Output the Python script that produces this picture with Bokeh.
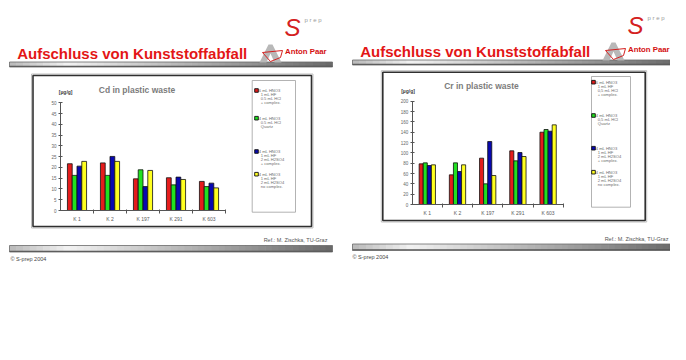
from bokeh.plotting import figure
from bokeh.models import (Label, BoxAnnotation, PolyAnnotation, FixedTicker,
                          ColumnDataSource, Range1d, LinearAxis)
from bokeh.transform import dodge
from bokeh.layouts import row
from bokeh.embed import file_html
from bokeh.resources import INLINE

U = "canvas"

# ---------------- data ----------------
cd_categories = ["K 1", "K 2", "K 197", "K 291", "K 603"]
cd_series1 = [21.7, 22.1, 14.7, 15.2, 13.5]
cd_series2 = [16.3, 16.3, 18.9, 11.9, 11.1]
cd_series3 = [20.6, 25.1, 11.1, 15.5, 12.7]
cd_series4 = [22.8, 22.8, 18.6, 14.4, 10.5]
cd_ticks = [0, 5, 10, 15, 20, 25, 30, 35, 40, 45, 50]

cr_categories = ["K 1", "K 2", "K 197", "K 291", "K 603"]
cr_series1 = [78.7, 57.4, 89.7, 103.9, 140.0]
cr_series2 = [80.6, 80.6, 40.0, 84.5, 145.2]
cr_series3 = [75.5, 63.9, 121.9, 100.6, 141.9]
cr_series4 = [76.8, 76.8, 56.1, 92.9, 154.2]
cr_ticks = [0, 20, 40, 60, 80, 100, 120, 140, 160, 180, 200]

legend_cd = [["6 mL HNO3", "1 mL HF", "0.5 mL HCl", "+ complex."],
             ["4 mL HNO3", "0.5 mL HCl", "Quartz"],
             ["4 mL HNO3", "1 mL HF", "2 mL H2SO4", "+ complex."],
             ["4 mL HNO3", "1 mL HF", "2 mL H2SO4", "no complex."]]
legend_cr = [["6 mL HNO3", "1 mL HF", "0,5 mL HCl", "+ complex."],
             ["4 mL HNO3", "0,5 mL HCl", "Quartz"],
             ["4 mL HNO3", "1 mL HF", "2 mL H2SO4", "+ complex."],
             ["4 mL HNO3", "1 mL HF", "2 mL H2SO4", "no complex."]]

slide_title = "Aufschluss von Kunststoffabfall"
ref_text = "Ref.: M. Zischka, TU-Graz"
copy_text = "\u00a9 S-prep 2004"

FONT = "Liberation Sans"
BAR_COLORS = ["#e51c1c", "#20e020", "#0808b0", "#ffff20"]
H = 344


def make_slide(cfg):
    Wf = cfg["width"]
    pl = cfg["page_left"]
    cats = cfg["cats"]
    n = len(cats)
    ymax = cfg["ymax"]
    Lp, Rp, Tp, Bp = [v - (pl if i < 2 else 0) for i, v in enumerate(cfg["chart_px"])]
    u = n / (Rp - Lp)
    v = ymax / (Bp - Tp)
    p = figure(width=Wf, height=H,
               x_range=Range1d(-Lp * u, n + (Wf - Rp) * u),
               y_range=Range1d(-(H - Bp) * v, ymax + Tp * v),
               x_axis_location=None, y_axis_location=None,
               output_backend="svg", toolbar_location=None,
               min_border=0, min_border_left=0, min_border_right=0,
               min_border_top=0, min_border_bottom=0)
    p.title.visible = False
    p.outline_line_color = None
    p.grid.visible = False
    p.background_fill_color = "white"
    p.border_fill_color = "white"

    def P(X, Y):
        return X - pl, Y

    def text(X, Y, t, size, color, style="normal", align="left", baseline="middle"):
        x, y = P(X, Y)
        p.add_layout(Label(x=x, y=y, x_units=U, y_units=U, text=t,
                           text_font=FONT, text_font_size=f"{size}px",
                           text_color=color, text_font_style=style,
                           text_align=align, text_baseline=baseline))

    def box(X0, Y0, X1, Y1, fill=None, line=None, lw=1.0):
        l, t = P(X0, Y0)
        r, b = P(X1, Y1)
        p.add_layout(BoxAnnotation(left=l, right=r, top=t, bottom=b,
                                   left_units=U, right_units=U,
                                   top_units=U, bottom_units=U,
                                   fill_color=fill, fill_alpha=1.0 if fill else 0.0,
                                   line_color=line, line_alpha=1.0 if line else 0.0,
                                   line_width=lw, level="underlay"))

    def poly(pts, fill=None, line=None, lw=1.0):
        xs, ys = zip(*[P(a, b) for a, b in pts])
        p.add_layout(PolyAnnotation(xs=list(xs), ys=list(ys), xs_units=U, ys_units=U,
                                    fill_color=fill, fill_alpha=1.0 if fill else 0.0,
                                    line_color=line, line_alpha=1.0 if line else 0.0,
                                    line_width=lw))

    def grad_bar(X0, X1, Y0, Y1, n=48):
        stops = [(0.0, (185, 185, 185)), (0.18, (242, 242, 242)), (1.0, (105, 105, 105))]
        for i in range(n):
            t = (i + 0.5) / n
            for (ta, ca), (tb, cb) in zip(stops[:-1], stops[1:]):
                if ta <= t <= tb:
                    f = (t - ta) / (tb - ta)
                    c = tuple(int(ca[k] + (cb[k] - ca[k]) * f) for k in range(3))
                    break
            xa = X0 + (X1 - X0) * i / n
            xb = X0 + (X1 - X0) * (i + 1) / n + 0.6
            box(xa, Y0, min(xb, X1), Y1, fill="#%02x%02x%02x" % c)
        box(X0, Y1 - 1.2, X1, Y1, fill="#555555")
        box(X0, Y0, X1, Y1, line="#6a6a6a", lw=0.8)

    o = cfg["slide_left"]
    dy = cfg["dy"]

    # slide header
    text(o + 16.7, 53.3 + dy, slide_title, 15, "#e31616", style="bold")
    grad_bar(o + 9, o + 332, 61.5 + dy, 66.5 + dy)
    # S-prep logo
    text(o + 284, 27 + dy, "S", 24, "#d42020", style="italic")
    text(o + 304, 19 + dy, "p r e p", 6, "#9a9a9a")
    # Anton Paar logo
    poly([(o + 259, 62 + dy), (o + 268, 44 + dy), (o + 272, 44 + dy), (o + 281, 62 + dy),
          (o + 274, 62 + dy), (o + 270, 53 + dy), (o + 266, 62 + dy)], fill="#b8b8b8")
    poly([(o + 262, 52 + dy), (o + 282, 50 + dy), (o + 280, 57 + dy), (o + 270, 61 + dy)],
         line="#d42020", lw=1.0)
    text(o + 284.5, 51 + dy, "Anton Paar", 7.8, "#d41010", style="bold")

    # chart frame
    bx0, by0, bx1, by1 = cfg["box"]
    box(bx0 - 1.5, by0 - 1.5, bx1 + 1.5, by1 + 1.5, line="#b0b0b0", lw=0.8)
    box(bx0, by0, bx1, by1, line="#303030", lw=1.6)

    # bars (category k sits at k + 0.5 on the numeric axis)
    centers = [k + 0.5 for k in range(n)]
    src = ColumnDataSource(dict(x=centers, s1=cfg["vals"][0], s2=cfg["vals"][1],
                                s3=cfg["vals"][2], s4=cfg["vals"][3]))
    bw = cfg["bar_w"]
    for i, (col, c) in enumerate(zip(["s1", "s2", "s3", "s4"], BAR_COLORS)):
        off = (i - 1.5) * bw
        p.vbar(x=dodge("x", off), top=col, width=bw, source=src,
               fill_color=c, line_color="#101010", line_width=0.8)

    # axes
    yax = LinearAxis(fixed_location=0, bounds=(0, ymax),
                     ticker=FixedTicker(ticks=cfg["ticks"]))
    yax.minor_tick_line_color = None
    yax.major_tick_in = 2
    yax.major_tick_out = 2
    yax.major_label_standoff = 2
    yax.axis_line_color = "#555555"
    yax.major_tick_line_color = "#555555"
    yax.major_label_text_font = FONT
    yax.major_label_text_font_size = "4.5px"
    yax.major_label_text_color = "#666666"
    p.add_layout(yax, "left")

    xax = LinearAxis(fixed_location=0, bounds=(0, n),
                     ticker=FixedTicker(ticks=centers, minor_ticks=list(range(1, n + 1))),
                     major_label_overrides={c: cat for c, cat in zip(centers, cats)})
    xax.major_tick_line_color = None
    xax.major_tick_in = 0
    xax.major_tick_out = 0
    xax.minor_tick_line_color = "#555555"
    xax.minor_tick_in = 1
    xax.minor_tick_out = 3
    xax.major_label_standoff = 2
    xax.axis_line_color = "#555555"
    xax.major_label_text_font = FONT
    xax.major_label_text_font_size = "5px"
    xax.major_label_text_color = "#5a5a5a"
    p.add_layout(xax, "below")

    # chart title and unit
    tx, ty = cfg["title_pos"]
    text(tx, ty, cfg["title"], 8.5, "#7c7c7c", style="bold", align="center")
    ux, uy = cfg["unit_pos"]
    text(ux, uy, "[\u00b5g/g]", 5, "#404040", style="bold")

    # legend
    lx0, ly0, lx1, ly1 = cfg["legend_box"]
    box(lx0, ly0, lx1, ly1, fill="white", line="#a0a0a0", lw=0.8)
    sqx = cfg["sq_x"]
    for item, y0, c in zip(cfg["legend"], cfg["legend_y"], BAR_COLORS):
        for j, line in enumerate(item):
            x = sqx + 2.3 if j == 0 else sqx + 4.2
            text(x, y0 + j * 3.95, line, 4.1, "#6e6e6e")
        l, t = P(sqx - 1.8, y0 - 1.8)
        r, b = P(sqx + 1.8, y0 + 1.8)
        p.add_layout(BoxAnnotation(left=l, right=r, top=t, bottom=b,
                                   left_units=U, right_units=U, top_units=U, bottom_units=U,
                                   fill_color=c, fill_alpha=1.0, line_color="#101010",
                                   line_alpha=1.0, line_width=0.9))

    # footer
    rx, ry = cfg["ref_pos"]
    text(rx, ry, ref_text, 5.5, "#555555", align="right")
    by = cfg["bottom_bar"]
    grad_bar(o + 9, o + 332, by, by + 6.5)
    cx, cy = cfg["copy_pos"]
    text(cx, cy, copy_text, 5.5, "#444444")
    return p


left_cfg = dict(page_left=0, slide_left=0, width=343, dy=0,
                chart_px=(60, 225, 102.3, 210),
                cats=cd_categories, vals=[cd_series1, cd_series2, cd_series3, cd_series4],
                ymax=50, ticks=cd_ticks, bar_w=0.145,
                box=(32.5, 75, 311, 226),
                title="Cd in plastic waste", title_pos=(136.5, 89),
                unit_pos=(58.3, 91.7),
                legend=legend_cd, legend_box=(251.7, 80, 295, 211.7),
                sq_x=256, legend_y=[90, 117.7, 151, 173.7],
                ref_pos=(327, 239), bottom_bar=245, copy_pos=(10, 258))

right_cfg = dict(page_left=343, slide_left=343, width=327, dy=-2,
                 chart_px=(411.7, 562.7, 100.7, 204),
                 cats=cr_categories, vals=[cr_series1, cr_series2, cr_series3, cr_series4],
                 ymax=200, ticks=cr_ticks, bar_w=0.135,
                 box=(382.3, 71.7, 644.7, 220),
                 title="Cr in plastic waste", title_pos=(481, 85.7),
                 unit_pos=(400.7, 90.7),
                 legend=legend_cr, legend_box=(591, 76, 630, 206.7),
                 sq_x=593, legend_y=[81.7, 115, 147.7, 171.7],
                 ref_pos=(668, 238.3), bottom_bar=243.5, copy_pos=(352, 256.7))

p_left = make_slide(left_cfg)
p_right = make_slide(right_cfg)
layout = row(p_left, p_right)

open("out.html", "w").write(file_html(layout, INLINE))
